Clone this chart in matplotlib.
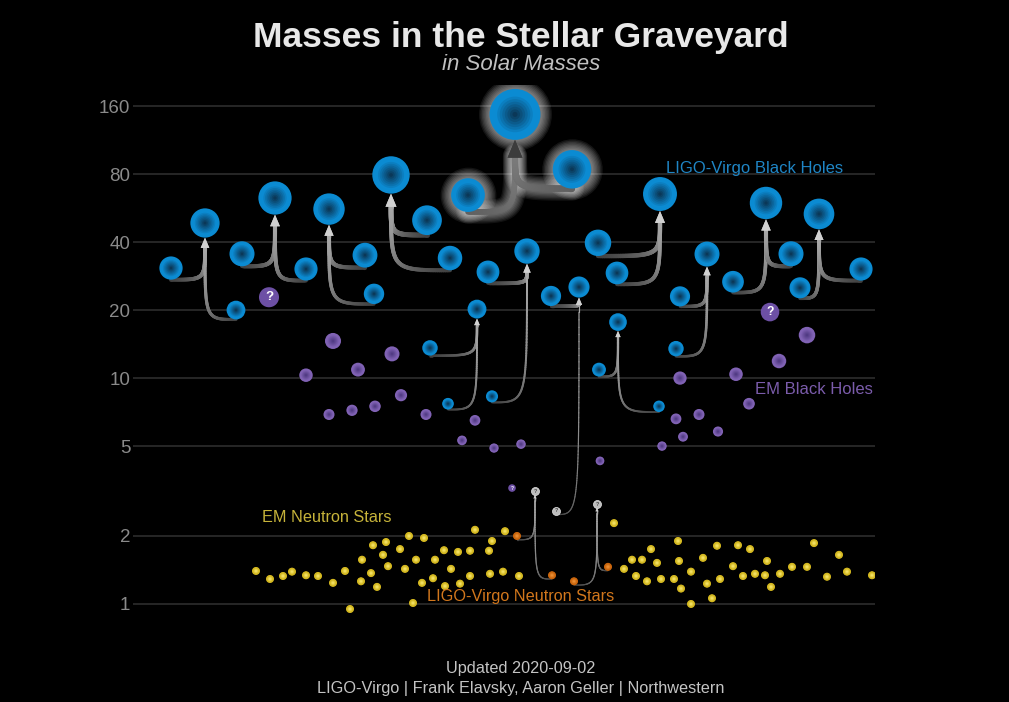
import numpy as np
import matplotlib.pyplot as plt
from matplotlib.collections import LineCollection
from matplotlib.patches import Polygon
from matplotlib.transforms import IdentityTransform
from matplotlib.ticker import NullLocator
from matplotlib.colors import to_rgb

plt.rcParams['font.family'] = ['Liberation Sans', 'DejaVu Sans']

# LIGO-Virgo black hole mergers (x position, mass in solar masses)
bh_names = ['GW170104', 'GW150914', 'GW170809', 'GW170729', 'GW151226', 'GW190521',
            'GW190412', 'GW190814', 'GW170608', 'GW170823', 'GW151012', 'GW170818', 'GW170814']
bh_x1 = [171, 242, 365, 427, 430, 468, 488, 551, 599, 598, 680, 733, 800]
bh_m1 = [30.7, 35.5, 35.0, 50.0, 13.6, 64.6, 29.5, 23.1, 10.9, 39.7, 23.0, 26.7, 25.1]
bh_x2 = [236, 306, 374, 450, 448, 572, 492, 556, 659, 617, 676, 791, 861]
bh_m2 = [20.0, 30.4, 23.6, 34.0, 7.7, 84.0, 8.3, 2.58, 7.5, 29.2, 13.5, 35.5, 30.4]
bh_xf = [205, 275, 329, 391, 477, 515, 527, 579, 618, 660, 707, 766, 819]
bh_mf = [48.6, 62.7, 56.0, 79.3, 20.2, 147.0, 36.5, 25.3, 17.7, 65.3, 35.4, 59.6, 53.3]
bh_glow = ['GW190521']
gray_q_events = ['GW190814']  # secondary of unknown type

# LIGO-Virgo neutron star mergers
ns_x1 = [517, 574]
ns_m1 = [2.00, 1.26]
ns_x2 = [552, 608]
ns_m2 = [1.34, 1.46]
ns_xf = [535, 597]
ns_mf = [3.16, 2.77]

# EM black holes
em_bh_x = [306, 333, 358, 392, 401, 329, 352, 375, 426, 475, 462, 494, 521, 600,
           662, 676, 680, 683, 699, 718, 736, 749, 779, 807]
em_bh_m = [10.3, 14.6, 10.9, 12.8, 8.4, 6.9, 7.2, 7.5, 6.9, 6.5, 5.3, 4.9, 5.1, 4.3,
           5.0, 6.6, 10.0, 5.5, 6.9, 5.8, 10.4, 7.7, 11.9, 15.5]
em_bh_q_x = [269, 512, 770]
em_bh_q_m = [22.8, 3.26, 19.6]

# EM neutron stars
em_ns_x = [256, 270, 283, 292, 306, 318, 333, 345, 350, 361, 362, 371, 373, 377, 383, 386,
           388, 400, 405, 409, 413, 416, 422, 424, 433, 435, 444, 445, 451, 458, 460, 470,
           470, 475, 489, 490, 492, 503, 505, 519, 614, 624, 632, 636, 642, 647, 651, 657,
           661, 674, 678, 679, 681, 691, 691, 703, 707, 712, 717, 720, 733, 738, 743, 750,
           755, 765, 767, 771, 780, 792, 807, 814, 827, 839, 847, 872]
em_ns_m = [1.40, 1.29, 1.33, 1.39, 1.34, 1.33, 1.24, 1.40, 0.95, 1.26, 1.57, 1.37, 1.82, 1.19,
           1.65, 1.88, 1.47, 1.75, 1.43, 2.00, 1.01, 1.57, 1.24, 1.96, 1.30, 1.57, 1.73, 1.20,
           1.43, 1.70, 1.23, 1.72, 1.33, 2.13, 1.72, 1.36, 1.90, 1.39, 2.10, 1.33, 2.28, 1.43,
           1.57, 1.33, 1.57, 1.26, 1.75, 1.52, 1.29, 1.29, 1.90, 1.55, 1.17, 1.39, 1.00, 1.60,
           1.23, 1.06, 1.81, 1.29, 1.47, 1.82, 1.33, 1.75, 1.36, 1.34, 1.55, 1.19, 1.36, 1.46,
           1.46, 1.86, 1.32, 1.65, 1.39, 1.34]

yticks = [1, 2, 5, 10, 20, 40, 80, 160]

W, H = 1009, 702
fig = plt.figure(figsize=(W / 100, H / 100), dpi=100, facecolor='black')
ax = fig.add_axes([133 / W, 1 - 625 / H, 742 / W, 540 / H])
ax.set_facecolor('black')
ax.set_yscale('log', base=2)
ax.set_xlim(133, 875)
ax.set_ylim(0.807, 198.4)
ax.set_yticks(yticks)
ax.set_yticklabels([str(t) for t in yticks])
ax.yaxis.set_minor_locator(NullLocator())
ax.set_xticks([])
ax.tick_params(axis='y', length=0, pad=2, labelsize=13.5, labelcolor='#8a8a8a')
ax.yaxis.grid(True, color='#2a2a2a', lw=1.3)
ax.set_axisbelow(True)
for s in ax.spines.values():
    s.set_visible(False)

PT = 0.72  # points per pixel


def bh_radius(m):
    return 2.1 * np.sqrt(m)


def bezier(p0, p1, p2, p3, n=80):
    t = np.linspace(0, 1, n)[:, None]
    return (1 - t) ** 3 * p0 + 3 * (1 - t) ** 2 * t * p1 + 3 * (1 - t) * t ** 2 * p2 + t ** 3 * p3


def link(x0, m0, r0, x1, m1, r1, glow=False):
    p = ax.transData.transform((x0, m0))
    f = ax.transData.transform((x1, m1))
    lw = max(0.33 * r0, 1.0)
    head = max(0.7 * r1, 3.5)
    start = np.array([p[0], p[1] - r0])
    tip = np.array([f[0], f[1] - r1])
    base = tip - np.array([0, head * 0.9])
    corner = np.array([f[0], start[1]])
    pts = bezier(start, corner, corner, base)
    segs = np.stack([pts[:-1], pts[1:]], axis=1)
    t = np.linspace(0, 1, len(segs))[:, None]
    dark, light = np.array(to_rgb('#404040')), np.array(to_rgb('#a8a8a8'))
    if glow:
        dark, light = np.array(to_rgb('#606060')), np.array(to_rgb('#7a7a7a'))
        # soft white halo, one continuous line per layer so alpha doesn't stack
        for k in range(7):
            ax.plot(pts[:, 0], pts[:, 1], color='white', alpha=0.07,
                    lw=(lw + 18 * (1 - k / 7)) * PT, solid_capstyle='round',
                    transform=IdentityTransform(), zorder=1.5)
    cols = dark * (1 - t) + light * t
    ax.add_collection(LineCollection(segs, colors=cols, linewidths=lw * PT,
                                     transform=IdentityTransform(), zorder=2,
                                     capstyle='round'), autolim=False)
    hw = head * 0.42
    tri = Polygon([tip, base + [-hw, -0.1 * head], base + [hw, -0.1 * head]], closed=True,
                  facecolor='#3c3c3c' if glow else '#d0d0d0', lw=0,
                  transform=IdentityTransform(), zorder=3)
    ax.add_patch(tri)


def balls(xs, ms, rs, edge, center, z=4, n=10):
    xs, ms, rs = np.asarray(xs), np.asarray(ms), np.asarray(rs)
    e, c = np.array(to_rgb(edge)), np.array(to_rgb(center))
    for k in range(n):
        f = 1 - k / n
        col = c + (e - c) * min(1.0, f * 1.25)
        ax.scatter(xs, ms, s=(2 * rs * f * PT) ** 2, color=col, lw=0, zorder=z + k * 0.001)


def glow_ball(x, m, r):
    for k in range(8):
        ax.scatter([x], [m], s=(2 * (r + 11 * (1 - k / 8)) * PT) ** 2, color='white',
                   alpha=0.08, lw=0, zorder=1.6)


# black hole merger links and balls
blue_x, blue_m = [], []
for i, name in enumerate(bh_names):
    glow = name in bh_glow
    r1, rf = bh_radius(bh_m1[i]), bh_radius(bh_mf[i])
    r2 = 3.6 if name in gray_q_events else bh_radius(bh_m2[i])
    link(bh_x1[i], bh_m1[i], r1, bh_xf[i], bh_mf[i], rf, glow)
    link(bh_x2[i], bh_m2[i], r2, bh_xf[i], bh_mf[i], rf, glow)
    blue_x += [bh_x1[i], bh_xf[i]]
    blue_m += [bh_m1[i], bh_mf[i]]
    if name not in gray_q_events:
        blue_x.append(bh_x2[i])
        blue_m.append(bh_m2[i])
    if glow:
        for xx, mm in [(bh_x1[i], bh_m1[i]), (bh_x2[i], bh_m2[i]), (bh_xf[i], bh_mf[i])]:
            glow_ball(xx, mm, bh_radius(mm))

balls(blue_x, blue_m, bh_radius(np.array(blue_m)), '#0b8bd2', '#0b2c46')

# neutron star merger links
for i in range(len(ns_x1)):
    link(ns_x1[i], ns_m1[i], 3.8, ns_xf[i], ns_mf[i], 3.8)
    link(ns_x2[i], ns_m2[i], 3.8, ns_xf[i], ns_mf[i], 3.8)

# EM black holes
balls(em_bh_x, em_bh_m, bh_radius(np.array(em_bh_m)), '#8062b4', '#48337a')
ax.scatter(em_bh_q_x, em_bh_q_m, s=(2 * bh_radius(np.array(em_bh_q_m)) * PT) ** 2,
           color='#6d50a5', lw=0, zorder=5)
for xx, mm in zip(em_bh_q_x, em_bh_q_m):
    ax.text(xx, mm, '?', ha='center', va='center', color='white', weight='bold',
            fontsize=bh_radius(mm) * 0.95, zorder=6)

# EM neutron stars
balls(em_ns_x, em_ns_m, np.full(len(em_ns_x), 4.0), '#d2b61e', '#fff07e')

# LIGO-Virgo neutron stars
balls(ns_x1 + ns_x2, ns_m1 + ns_m2, np.full(4, 4.0), '#c8640c', '#f49c42')

# gray question marks (remnants / unknown)
gq_x = ns_xf + [bh_x2[bh_names.index(n)] for n in gray_q_events]
gq_m = ns_mf + [bh_m2[bh_names.index(n)] for n in gray_q_events]
ax.scatter(gq_x, gq_m, s=(2 * 4.0 * PT) ** 2, color='#bdbdbd', edgecolor='#e8e8e8',
           lw=0.5, zorder=5)
for xx, mm in zip(gq_x, gq_m):
    ax.text(xx, mm, '?', ha='center', va='center', color='#444444', weight='bold',
            fontsize=4, zorder=6)


# category labels
def ftext(x, y, s, **kw):
    fig.text(x / W, 1 - y / H, s, ha='center', va='center', **kw)


ftext(755, 168, 'LIGO-Virgo Black Holes', color='#1f86c6', fontsize=12)
ftext(814, 389, 'EM Black Holes', color='#7b5cab', fontsize=12)
ftext(327, 517, 'EM Neutron Stars', color='#c6b33a', fontsize=11.7)
ftext(521, 597, 'LIGO-Virgo Neutron Stars', color='#d2771c', fontsize=11.7)

ftext(521, 38, 'Masses in the Stellar Graveyard', color='#e8e8e8', fontsize=25.5, weight='bold')
ftext(521, 64, 'in Solar Masses', color='#c0c0c0', fontsize=16, style='italic')
ftext(521, 668, 'Updated 2020-09-02', color='#c4c4c4', fontsize=11.7)
ftext(521, 688, 'LIGO-Virgo | Frank Elavsky, Aaron Geller | Northwestern', color='#c4c4c4', fontsize=11.7)

fig.savefig('out.png', dpi=100, facecolor='black')
